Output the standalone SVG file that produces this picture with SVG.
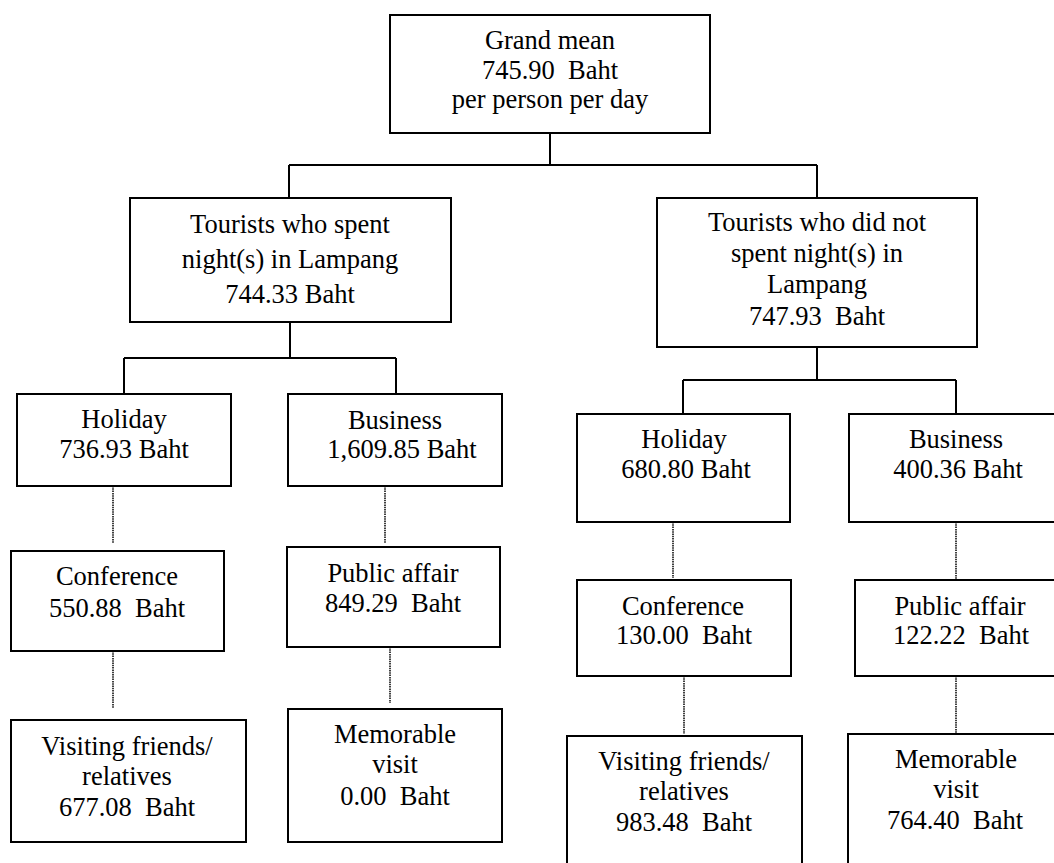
<svg xmlns="http://www.w3.org/2000/svg" width="1054" height="863" viewBox="0 0 1054 863">
<style>
.box{fill:#fff;stroke:#000;stroke-width:2}
text{font-family:"Times New Roman","Liberation Serif",Tinos,"DejaVu Serif",serif;font-size:26.5px;fill:#000;text-anchor:middle;white-space:pre}
.solid{stroke:#000;stroke-width:2;fill:none}
.dot{stroke:#000;stroke-width:1.5;fill:none;stroke-dasharray:1.5 0.8}
</style>
<rect width="1054" height="863" fill="#fff"/>
<g id="connectors">
<path class="solid" d="M550,133V165M289,165H817M289,165V198M817,165V198"/>
<path class="solid" d="M290,322V358M124,358H396M124,358V394M396,358V394"/>
<path class="solid" d="M817,347V380M683,380H956M683,380V414M956,380V414"/>
<path class="dot" d="M113,486V543M113,651V708M385,486V543M390,647V703"/>
<path class="dot" d="M673,522V578M684,676V734M956,522V580M956,676V735"/>
</g>
<g id="grand">
<rect class="box" x="390" y="15" width="320" height="118"/>
<text x="550" y="49">Grand mean</text>
<text x="550" y="78.5">745.90  Baht</text>
<text x="550" y="108">per person per day</text>
</g>
<g id="stay">
<rect class="box" x="130" y="198" width="321" height="124"/>
<text x="290" y="233">Tourists who spent</text>
<text x="290" y="268">night(s) in Lampang</text>
<text x="290" y="303">744.33 Baht</text>
</g>
<g id="nostay">
<rect class="box" x="657" y="198" width="320" height="149"/>
<text x="817" y="231">Tourists who did not</text>
<text x="817" y="262">spent night(s) in</text>
<text x="817" y="293">Lampang</text>
<text x="817" y="325">747.93  Baht</text>
</g>
<g id="holidayL">
<rect class="box" x="17" y="394" width="214" height="92"/>
<text x="124" y="428">Holiday</text>
<text x="124" y="458">736.93 Baht</text>
</g>
<g id="businessL">
<rect class="box" x="288" y="394" width="214" height="92"/>
<text x="395" y="429">Business</text>
<text x="402" y="458">1,609.85 Baht</text>
</g>
<g id="conferenceL">
<rect class="box" x="11" y="551" width="213" height="100"/>
<text x="117" y="585">Conference</text>
<text x="117" y="617">550.88  Baht</text>
</g>
<g id="publicL">
<rect class="box" x="287" y="547" width="213" height="100"/>
<text x="393" y="582">Public affair</text>
<text x="393" y="612">849.29  Baht</text>
</g>
<g id="visitingL">
<rect class="box" x="11" y="720" width="235" height="122"/>
<text x="127" y="755">Visiting friends/</text>
<text x="127" y="785">relatives</text>
<text x="127" y="816">677.08  Baht</text>
</g>
<g id="memorableL">
<rect class="box" x="288" y="709" width="214" height="133"/>
<text x="395" y="743">Memorable</text>
<text x="395" y="773">visit</text>
<text x="395" y="805">0.00  Baht</text>
</g>
<g id="holidayR">
<rect class="box" x="577" y="414" width="213" height="108"/>
<text x="684" y="448">Holiday</text>
<text x="686" y="478">680.80 Baht</text>
</g>
<g id="businessR">
<rect class="box" x="849" y="414" width="215" height="108"/>
<text x="956" y="448">Business</text>
<text x="958" y="478">400.36 Baht</text>
</g>
<g id="conferenceR">
<rect class="box" x="577" y="580" width="214" height="96"/>
<text x="683" y="615">Conference</text>
<text x="684" y="644">130.00  Baht</text>
</g>
<g id="publicR">
<rect class="box" x="855" y="580" width="210" height="96"/>
<text x="960" y="615">Public affair</text>
<text x="961" y="644">122.22  Baht</text>
</g>
<g id="visitingR">
<rect class="box" x="567" y="736" width="235" height="140"/>
<text x="684" y="770">Visiting friends/</text>
<text x="684" y="800">relatives</text>
<text x="684" y="831">983.48  Baht</text>
</g>
<g id="memorableR">
<rect class="box" x="848" y="734" width="220" height="140"/>
<text x="956" y="768">Memorable</text>
<text x="956" y="798">visit</text>
<text x="955" y="829">764.40  Baht</text>
</g>
</svg>
